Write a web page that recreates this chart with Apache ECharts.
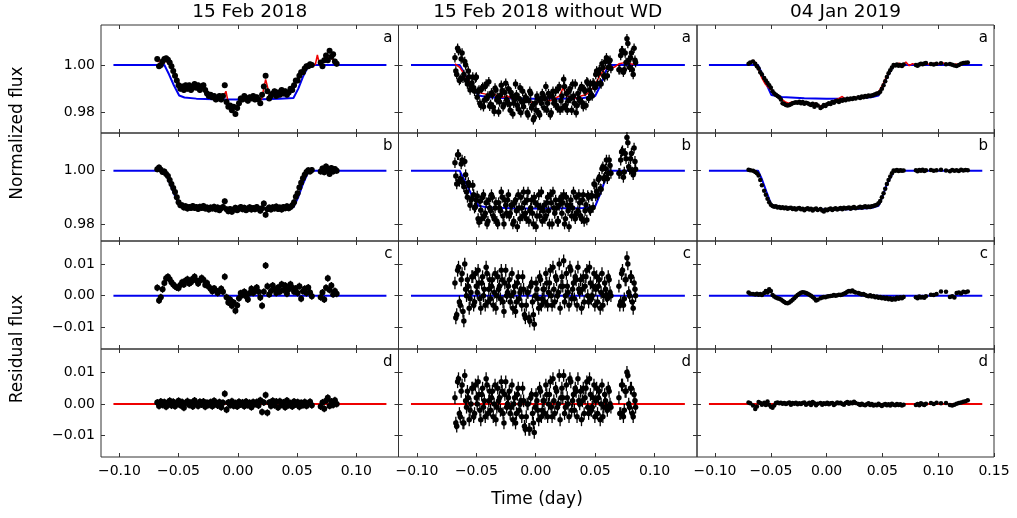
<!DOCTYPE html>
<html>
<head>
<meta charset="utf-8">
<script src="https://cdn.jsdelivr.net/npm/echarts@6/dist/echarts.min.js"></script>
<style>
html,body{margin:0;padding:0;background:#fff;}
#c{width:1017px;height:518px;}
</style>
</head>
<body>
<div id="c"></div>
<script>
// ---------- DATA (flux values in ppt relative to 1, residuals in ppt) ----------
const titles = ['15 Feb 2018', '15 Feb 2018 without WD', '04 Jan 2019'];
const panelLetters = ['a', 'b', 'c', 'd'];
const xTicks12 = [-0.10, -0.05, 0.00, 0.05, 0.10];
const xTicks3 = [-0.10, -0.05, 0.00, 0.05, 0.10, 0.15];
const yTicksFlux = [0.98, 1.00];
const yTicksRes = [-0.01, 0.00, 0.01];

// time stamps shared by the two 15 Feb 2018 columns
const t1 = [
-0.0680,-0.0665,-0.0650,-0.0635,-0.0620,-0.0605,-0.0590,-0.0575,-0.0560,-0.0545,
-0.0530,-0.0515,-0.0500,-0.0485,-0.0470,-0.0455,-0.0440,-0.0425,-0.0410,-0.0395,
-0.0380,-0.0365,-0.0350,-0.0335,-0.0320,-0.0305,-0.0290,-0.0275,-0.0260,-0.0245,
-0.0230,-0.0215,-0.0200,-0.0185,-0.0170,-0.0155,-0.0140,-0.0125,-0.0110,-0.0095,
-0.0080,-0.0065,-0.0050,-0.0035,-0.0020,-0.0005,0.0010,0.0025,0.0040,0.0055,
0.0070,0.0085,0.0100,0.0115,0.0130,0.0145,0.0160,0.0175,0.0190,0.0205,
0.0220,0.0235,0.0250,0.0265,0.0280,0.0295,0.0310,0.0325,0.0340,0.0355,
0.0370,0.0385,0.0400,0.0415,0.0430,0.0445,0.0460,0.0475,0.0490,0.0505,
0.0520,0.0535,0.0550,0.0565,0.0580,0.0595,0.0610,0.0625,0.0700,0.0715,
0.0730,0.0745,0.0760,0.0775,0.0790,0.0805,0.0820,0.0835];
// extra interleaved time stamps of the "without WD" reduction
const t2x = [
-0.06725,-0.06575,-0.06425,-0.06275,-0.06125,-0.05975,-0.05825,-0.05675,-0.05525,-0.05375,
-0.05225,-0.05075,-0.04925,-0.04775,-0.04625,-0.04475,-0.04325,-0.04175,-0.04025,-0.03875,
-0.03725,-0.03575,-0.03425,-0.03275,-0.03125,-0.02975,-0.02825,-0.02675,-0.02525,-0.02375,
-0.02225,-0.02075,-0.01925,-0.01775,-0.01625,-0.01475,-0.01325,-0.01175,-0.01025,-0.00875,
-0.00725,-0.00575,-0.00425,-0.00275,-0.00125,0.00025,0.00175,0.00325,0.00475,0.00625,
0.00775,0.00925,0.01075,0.01225,0.01375,0.01525,0.01675,0.01825,0.01975,0.02125,
0.02275,0.02425,0.02575,0.02725,0.02875,0.03025,0.03175,0.03325,0.03475,0.03625,
0.03775,0.03925,0.04075,0.04225,0.04375,0.04525,0.04675,0.04825,0.04975,0.05125,
0.05275,0.05425,0.05575,0.05725,0.05875,0.06025,0.06175,0.06325,0.07075,0.07225,
0.07375,0.07525,0.07675,0.07825,0.07975,0.08125,0.08275,0.08400];

// column 1: 15 Feb 2018
const a1 = [
2.5,-0.5,0.0,1.5,2.5,2.8,2.2,1.0,-0.5,-2.5,
-4.5,-6.5,-8.5,-10.0,-9.0,-10.5,-8.5,-10.0,-8.5,-10.5,
-9.5,-8.0,-9.5,-8.5,-10.5,-9.0,-8.5,-10.5,-12.0,-13.0,
-12.5,-13.5,-13.0,-14.5,-14.0,-13.0,-14.5,-13.0,-8.5,-15.5,
-17.5,-17.0,-19.0,-17.5,-20.5,-18.0,-16.0,-14.0,-14.5,-13.0,
-14.0,-15.0,-13.5,-14.0,-13.0,-14.5,-13.5,-14.5,-16.0,-12.5,
-9.0,-4.5,-11.0,-14.0,-13.0,-12.0,-11.0,-13.0,-11.5,-12.5,
-10.5,-12.0,-11.0,-12.5,-11.5,-10.0,-10.5,-8.5,-6.5,-6.5,
-4.5,-3.0,-3.0,-1.5,-0.5,-0.5,0.3,0.0,1.0,-0.5,
2.0,4.0,2.0,6.0,3.5,4.5,1.5,0.5];
const b1 = [
0.5,1.2,0.4,-0.5,-0.3,-1.2,-2.0,-3.5,-5.0,-6.5,
-8.0,-10.0,-11.8,-13.0,-13.0,-13.8,-13.3,-14.2,-13.6,-14.0,
-13.2,-14.0,-13.6,-14.4,-13.5,-14.0,-13.2,-14.2,-13.8,-14.6,
-13.8,-14.2,-13.5,-14.5,-13.8,-14.8,-14.1,-13.6,-11.5,-14.5,
-15.2,-14.4,-15.4,-14.6,-13.9,-14.8,-14.2,-13.6,-14.5,-13.9,
-14.8,-14.3,-13.7,-14.6,-14.0,-14.5,-13.6,-14.3,-15.0,-14.1,
-12.3,-16.5,-14.5,-13.8,-14.6,-13.7,-14.2,-13.4,-14.4,-13.8,
-14.6,-13.6,-14.1,-13.3,-14.1,-13.6,-13.0,-11.8,-9.8,-8.5,
-6.3,-4.5,-2.8,-1.5,-0.5,0.2,-0.3,0.3,-0.3,0.8,
-0.6,1.6,0.4,-1.2,1.0,-0.3,0.6,0.0];
const c1 = [
2.5,-1.5,-0.5,2.0,4.0,5.5,6.0,5.2,4.2,3.5,
3.0,2.6,2.4,3.4,4.2,3.5,4.8,5.2,3.8,4.2,
5.3,6.0,4.8,3.8,4.8,5.6,5.0,3.4,4.0,2.8,
2.2,1.4,2.3,1.6,0.8,1.5,2.2,1.2,6.0,-0.5,
-2.2,-1.2,-3.2,-2.2,-4.8,-3.0,-0.8,0.8,0.2,1.2,
-0.2,-1.2,0.8,2.2,0.8,1.8,2.6,1.2,-0.6,-3.2,
1.2,9.5,3.0,0.4,1.5,3.2,2.0,0.8,2.6,1.2,
3.6,1.8,3.2,0.6,2.0,3.6,2.5,1.2,2.3,0.8,
3.0,-1.0,1.4,2.2,0.8,2.6,1.0,-0.2,-0.5,1.0,
-1.2,2.5,5.5,1.8,3.2,0.4,1.5,0.6];
const d1 = [
0.5,-0.6,0.8,-0.3,0.6,-0.9,0.4,1.0,-0.5,0.7,
-0.7,0.2,1.0,-0.4,0.6,-1.2,0.3,0.9,-0.3,0.5,
-0.8,1.1,0.0,-0.6,0.7,-0.2,0.8,-0.9,0.4,-0.3,
0.6,-0.7,1.0,0.1,-0.5,0.6,-1.0,0.4,3.2,-1.8,
0.5,-0.4,0.9,-0.6,0.3,-0.8,0.7,-0.2,0.5,-0.7,
0.8,-0.4,0.4,-1.0,0.6,-0.1,0.6,-0.5,1.2,-2.5,
0.5,2.8,-2.8,0.5,-0.6,1.0,-0.4,0.8,-1.1,0.9,
-0.3,0.5,-1.0,1.1,-0.4,0.3,-0.8,0.8,-0.2,0.6,
-0.9,0.4,-0.4,0.6,-0.6,0.2,0.7,-0.4,-0.8,0.5,
-1.5,1.0,2.0,-0.6,0.8,-0.3,1.2,0.0];
const err1 = 1.1;
const mT1 = [-0.105,-0.062,-0.058,-0.054,-0.0495,-0.045,-0.035,-0.020,0.000,0.020,0.035,0.047,0.051,0.055,0.060,0.1255];
const mA1 = [0,0,-4,-8.5,-12.8,-13.6,-14.1,-14.4,-14.5,-14.4,-14.2,-13.8,-10,-5,0,0];
const mB1 = [0,0,-4,-8.5,-12.9,-13.5,-14.0,-14.3,-14.4,-14.3,-14.1,-13.7,-10,-5,0,0];
const tR1 = [-0.068,-0.064,-0.060,-0.056,-0.052,-0.048,-0.044,-0.040,-0.036,-0.032,
-0.028,-0.024,-0.020,-0.016,-0.012,-0.010,-0.008,-0.004,0.000,0.004,
0.008,0.012,0.016,0.020,0.0235,0.027,0.031,0.035,0.039,0.043,
0.047,0.051,0.055,0.059,0.0625,0.0655,0.0672,0.069,0.071,0.074,
0.078,0.0835];
const rA1 = [1.5,1.5,1.5,-1,-5,-9,-9.5,-9.5,-9.5,-10,
-10.5,-12,-13.5,-13.5,-13,-11,-16,-18,-17,-14,
-14.5,-13.5,-14,-14.5,-6,-13,-12,-12,-11.5,-11,
-9,-6,-3,-0.5,0.2,0.2,4.2,0.2,1.0,2.0,
3.5,0.5];

// column 2: 15 Feb 2018 without WD (values at t1, then at t2x)
const a2 = [
3,-4,6,-6,5,-4,0,-8,-5,-9,
-5,-11,-5,-11,-16,-10,-17.5,-9,-14,-7,
-16.5,-12.5,-19.5,-10.5,-13.5,-15.5,-8.5,-17.5,-11.5,-14.5,
-10,-19,-13,-16,-8,-17,-14,-20,-11,-15,
-14,-21,-11,-18,-23,-16,-13,-20,-15,-12,
-18,-9,-16,-13,-20,-11,-15,-17,-10,-19,
-13,-6,-17,-19,-11,-14,-8,-16,-20,-12,
-15,-9,-17.5,-11,-7,-14,-8,-13,-8,-4,
-8,-2,-8,-1,-5,3,-1,2,-2,4,
6,-2,1,9,-1,5,-4,2];
const a2x = [
-2.5,7,-6.5,2.5,-5.5,1.5,-6.5,-2.5,-10.5,-7.5,
-9.5,-5.5,-13.5,-10.5,-17,-9.3,-14.8,-8,-13,-17.3,
-11.7,-17.7,-9.7,-14.7,-19.7,-12.7,-10.7,-16.7,-7.7,-15.7,
-16.5,-11.5,-20.5,-14.5,-12.5,-18.5,-9.5,-15.5,-17.5,-13.5,
-20,-15,-12,-17,-22,-19,-14,-21,-16,-13,
-14,-19,-12,-21,-13,-16,-11,-18,-9,-15,
-18,-9,-12,-15,-10,-19,-13,-8,-17,-14,
-10,-15.8,-10.3,-17,-7.5,-10.5,-12.5,-7.5,-9.5,-2.5,
-3.5,-7.5,0.5,-4.5,1.5,-4.5,1.5,-1.5,-2,6,
-3,5,11,2,3,-2,7,1];
const b2 = [
3,-5,6,-3,4,-6,-1.5,-10,-5.5,-11,
-5.5,-14,-11,-18,-11.5,-18,-9,-16,-20,-11,
-15,-10,-18,-12,-20,-14,-8,-17,-11,-16,
-9,-16,-13,-19,-11,-21,-14,-10,-17,-12,
-18,-8,-15,-11,-20,-12,-17,-9,-14,-19,
-13,-17,-10,-20,-12,-8,-16,-14,-19,-11,
-16,-9,-18,-13,-21,-11,-14,-17,-10,-15,
-12,-18,-9,-15,-18.5,-10,-15,-9.5,-5,-9.5,
-9,-2.5,-7,1.5,-2.5,4,-1,2,-1,4,
7.5,-0.5,4.5,10.5,0.5,6.5,-1.5,3.5];
const b2x = [
-2,6,-4,2.5,-4.5,3.5,-8,-4.5,-13,-10.5,
-9,-13.5,-9.5,-19.3,-14.8,-10,-17,-12,-19,-14,
-9,-17,-14,-19,-12,-15,-10,-20,-13,-11,
-17,-13,-20,-12,-15,-9,-18,-14,-8,-16,
-11,-19,-14,-16,-10,-21,-13,-17,-8,-15,
-18,-12,-15,-9,-20,-14,-11,-19,-13,-10,
-12,-20,-10,-15,-13,-17,-8,-18,-16,-9,
-17,-11,-19,-12.8,-9.3,-14.5,-9.3,-13.8,-5.3,-7.8,
-3.3,-6.8,0.7,-3,0.7,-3,4,-1,-1,7,
-2.5,6.5,12.5,1.5,4.5,-0.5,8.5,0.5];
const c2 = [
4,-6,9,-3,7,-8,2,5,-4,1,
6,-2,3,8,-1,4,0,-3,7,2,
-1,5,1,-4,6,3,8,-2,4,0,
3,-2,7,1,-5,4,-1,2,6,-6,
-3,1,-8,4,-6,0,2,-4,5,-1,
2,7,-3,4,0,9,-2,5,1,-4,
6,11,0,3,-3,8,2,-1,5,9,
1,-4,6,3,8,-2,4,0,7,2,
-2,5,1,-3,4,0,6,1,3,-2,
8,-1,5,10,0,6,-4,2];
const c2x = [
-7,8,-2,5,-5,10,0,3,-1,6,
-3,7,1,4,-4,6,2,9,-2,5,
3,-3,7,0,2,-1,5,-5,8,1,
5,0,-4,3,-2,6,1,-3,2,-7,
1,-7,3,-2,-9,4,-1,6,-3,2,
-2,4,1,8,-3,2,6,0,10,3,
3,-2,7,1,9,-1,4,6,-3,2,
5,2,-2,6,0,9,-1,3,-3,6,
3,-4,7,0,2,-1,5,0,-3,7,
-3,5,12,1,6,-2,4,0];
const d2 = [
2,-7,8,-4,6,-6,1,4,-5,0,
5,-3,2,7,-2,3,-1,-4,6,1,
-2,4,0,-5,5,2,7,-3,3,-1,
2,-3,6,0,-6,3,-2,1,5,-7,
-4,0,-8,3,-6,-1,1,-5,4,-2,
1,6,-4,3,-1,8,-3,4,0,-5,
5,9,-1,2,-4,7,1,-2,4,8,
0,-5,5,2,7,-3,3,-1,6,1,
-3,4,0,-4,3,-1,5,0,2,-3,
6,-2,4,9,-1,5,-4,1];
const d2x = [
-6,7,-3,4,-6,9,-1,2,-2,5,
-4,6,0,3,-5,5,1,8,-3,4,
2,-4,6,-1,1,-2,4,-6,7,0,
4,-1,-5,2,-3,5,0,-4,1,-8,
0,-8,2,-3,-9,3,-2,5,-4,1,
-3,3,0,7,-4,1,5,-1,9,2,
2,-3,6,0,8,-2,3,5,-4,1,
4,1,-3,5,-1,8,-2,2,-4,5,
2,-5,6,-1,1,-2,4,-1,-3,6,
-4,4,10,0,5,-3,3,-1];
const err2 = 2.0;
const mT2 = [-0.105,-0.064,-0.059,-0.054,-0.048,-0.040,-0.020,0.000,0.020,0.040,0.050,0.054,0.058,0.061,0.1255];
const mA2 = [0,0,-4.5,-9,-12.8,-13.5,-14.0,-14.2,-14.1,-13.8,-13.0,-9,-4,0,0];
const mB2 = [0,0,-4.5,-9,-13.2,-13.8,-14.1,-14.2,-14.1,-14.0,-13.4,-9,-4,0,0];
const tR2 = [-0.068,-0.064,-0.060,-0.056,-0.052,-0.048,-0.044,-0.040,-0.036,-0.032,
-0.028,-0.024,-0.020,-0.016,-0.012,-0.008,-0.004,0.000,0.004,0.008,
0.012,0.016,0.020,0.023,0.026,0.030,0.034,0.038,0.042,0.046,
0.050,0.054,0.058,0.0625,0.066,0.070,0.075,0.080,0.0835];
const rA2 = [0.5,-1,-4,-7,-10,-11.5,-12,-12.5,-12,-13,
-13.5,-13,-14,-13.5,-15,-14.5,-15.5,-16,-15,-14.5,
-15,-14,-13,-9.5,-13,-13.5,-14,-13,-12.5,-11,
-8,-4.5,-1.5,-0.5,-1,0.5,1,0.5,0.2];

// column 3: 04 Jan 2019
const t3 = [
-0.0700,-0.0685,-0.0660,-0.0640,-0.0625,-0.0610,-0.0595,-0.0580,-0.0560,-0.0545,
-0.0530,-0.0515,-0.0500,-0.0485,-0.0470,-0.0455,-0.0440,-0.0425,-0.0410,-0.0395,
-0.0380,-0.0365,-0.0350,-0.0335,-0.0320,-0.0305,-0.0290,-0.0275,-0.0260,-0.0245,
-0.0230,-0.0215,-0.0200,-0.0185,-0.0170,-0.0155,-0.0140,-0.0125,-0.0110,-0.0095,
-0.0080,-0.0055,-0.0040,-0.0025,-0.0010,0.0005,0.0020,0.0035,0.0050,0.0065,
0.0080,0.0095,0.0110,0.0125,0.0140,0.0155,0.0170,0.0185,0.0200,0.0215,
0.0230,0.0245,0.0260,0.0285,0.0300,0.0315,0.0330,0.0345,0.0360,0.0375,
0.0390,0.0405,0.0420,0.0435,0.0450,0.0465,0.0480,0.0495,0.0510,0.0525,
0.0540,0.0555,0.0570,0.0585,0.0600,0.0615,0.0630,0.0645,0.0660,0.0675,
0.0690,0.0800,0.0815,0.0830,0.0845,0.0860,0.0875,0.0890,0.0935,0.0960,
0.0985,0.1025,0.1070,0.1105,0.1125,0.1145,0.1165,0.1185,0.1205,0.1225,
0.1245,0.1265];
const a3 = [
0.5,1.0,1.5,0.5,-0.5,-1.5,-3.0,-4.0,-5.5,-6.5,
-7.5,-8.5,-9.5,-11.0,-12.0,-12.5,-13.0,-13.5,-14.5,-16.0,
-16.3,-16.8,-17.0,-16.8,-16.5,-16.0,-15.8,-15.6,-15.8,-15.4,
-16.0,-15.5,-16.2,-15.8,-16.0,-16.5,-16.8,-16.2,-17.5,-16.5,
-17.0,-18.0,-17.5,-16.8,-17.2,-16.5,-16.0,-16.3,-15.5,-15.8,
-15.2,-15.0,-15.5,-14.8,-15.0,-14.5,-14.8,-14.2,-14.5,-14.0,
-14.3,-13.8,-14.0,-13.5,-13.8,-13.2,-13.5,-13.0,-13.3,-12.8,
-13.0,-12.8,-12.6,-12.3,-12.0,-11.8,-11.2,-10.0,-8.5,-6.8,
-5.0,-3.5,-2.2,-1.0,0.0,-0.2,0.2,-0.3,0.0,-0.4,
0.2,0.0,-0.3,0.2,0.5,0.3,0.6,0.8,0.4,0.2,
0.5,0.7,0.3,0.4,0.1,-0.2,-0.4,0.0,0.5,0.8,
0.9,1.0];
const b3 = [
0.4,0.2,0.0,-0.5,-1.0,-1.8,-3.5,-5.5,-7.5,-9.0,
-10.5,-11.8,-12.8,-13.2,-13.5,-13.3,-13.8,-13.6,-14.0,-13.7,
-14.1,-13.8,-14.3,-14.0,-13.9,-14.4,-14.1,-14.6,-14.2,-14.0,
-14.5,-14.3,-14.8,-14.4,-14.1,-14.6,-14.3,-14.9,-14.5,-14.2,
-14.7,-14.4,-14.9,-15.3,-14.6,-14.8,-14.5,-14.2,-14.7,-14.4,
-14.1,-14.6,-14.3,-14.0,-14.5,-13.9,-14.2,-14.0,-13.8,-14.3,
-13.9,-13.6,-14.1,-13.8,-13.5,-13.9,-13.6,-13.3,-13.7,-13.4,
-13.6,-13.3,-13.2,-13.0,-12.8,-12.2,-11.4,-10.0,-8.5,-6.8,
-5.0,-3.5,-2.2,-1.0,0.1,0.0,0.3,-0.1,0.2,0.0,
0.1,0.2,-0.2,0.3,0.0,0.4,-0.1,0.2,0.3,0.0,
0.2,0.4,0.1,-0.2,0.3,0.0,0.2,-0.1,0.4,0.1,
0.3,0.2];
const c3 = [
1.0,0.6,0.5,0.4,0.6,0.3,0.5,0.2,0.8,1.5,
1.0,2.0,1.5,0.2,-0.3,-0.6,-0.8,-1.0,-1.2,-1.6,
-2.0,-2.3,-2.4,-2.2,-1.8,-1.3,-0.8,-0.3,0.2,0.6,
0.9,1.1,1.0,0.8,0.6,0.3,0.0,-0.4,-0.9,-1.5,
-1.3,-0.8,-0.6,-0.4,-0.5,-0.3,-0.2,-0.1,0.0,0.2,
0.0,0.1,0.3,0.2,0.4,0.6,0.8,1.2,1.5,1.3,
1.6,1.2,1.0,0.8,0.6,0.4,0.5,0.2,0.0,-0.2,
0.1,-0.3,-0.1,-0.5,-0.3,-0.7,-0.4,-0.8,-0.6,-1.0,
-0.7,-1.1,-0.8,-1.3,-0.9,-1.2,-0.6,-1.0,-0.5,-0.8,
-0.4,-0.5,-0.8,-0.3,-0.6,-0.4,-0.7,-0.2,0.3,0.2,
0.5,1.3,1.2,-0.4,-0.2,-0.6,0.8,1.0,0.7,1.2,
1.1,1.3];
const d3 = [
0.5,0.2,-0.5,-1.6,-0.8,0.6,0.3,-0.2,0.4,-0.3,
0.8,-0.2,-0.9,-1.2,-0.5,0.3,0.5,0.2,0.4,0.1,
0.3,0.0,0.2,0.5,-0.2,0.3,0.1,0.4,-0.1,0.2,
0.0,0.3,0.5,-0.2,0.1,0.4,-0.3,0.6,0.2,-0.4,
0.1,0.3,-0.2,0.2,0.0,0.4,-0.1,0.2,0.3,-0.3,
0.1,0.5,0.2,0.4,0.0,-0.2,0.3,0.6,0.1,0.5,
0.2,0.7,0.3,0.0,-0.3,0.1,-0.2,-0.4,-0.1,0.2,
-0.3,0.0,-0.5,-0.2,-0.4,0.1,-0.3,-0.6,-0.2,0.0,
-0.4,-0.1,-0.5,0.1,-0.2,-0.4,0.0,-0.3,-0.1,-0.5,
-0.2,-0.3,0.0,-0.4,0.2,-0.1,-0.3,0.1,0.3,0.0,
0.4,0.2,0.3,-0.3,-0.5,-0.2,0.1,0.3,0.5,0.7,
0.9,1.2];
const err3 = 0.3;
const mT3 = [-0.1055,-0.0615,-0.058,-0.054,-0.0495,-0.040,-0.020,0.000,0.020,0.040,0.0465,0.050,0.054,0.0605,0.1395];
const mA3 = [0,0,-3.5,-8,-12.6,-13.4,-13.9,-14.1,-14.0,-13.5,-12.8,-9.5,-5,0,0];
const mB3 = [0,0,-3.2,-7.8,-12.9,-13.8,-14.4,-14.6,-14.5,-14.0,-13.2,-9.8,-5,0,0];
const tR3 = [-0.070,-0.066,-0.064,-0.062,-0.060,-0.058,-0.055,-0.052,-0.049,-0.046,
-0.043,-0.040,-0.037,-0.034,-0.031,-0.028,-0.025,-0.022,-0.019,-0.016,
-0.013,-0.010,-0.007,-0.004,-0.001,0.002,0.005,0.008,0.011,0.014,
0.017,0.020,0.023,0.026,0.029,0.032,0.035,0.038,0.041,0.044,
0.047,0.050,0.053,0.056,0.059,0.062,0.065,0.068,0.071,0.074,
0.077,0.080,0.083,0.086,0.089,0.092,0.095,0.098,0.101,0.104,
0.107,0.110,0.113,0.116,0.119,0.122,0.125,0.127];
const rA3 = [0.0,2.0,1.0,-1.0,-3.0,-5.5,-8.0,-9.5,-10.5,-12.5,
-13.0,-14.5,-15.5,-16.0,-15.5,-15.8,-15.2,-15.8,-15.5,-16.2,
-16.5,-16.0,-16.8,-17.5,-16.5,-16.0,-15.5,-14.5,-14.0,-13.2,
-14.5,-14.0,-14.2,-13.5,-13.8,-13.0,-13.3,-12.8,-12.6,-12.2,
-11.0,-8.5,-5.5,-2.8,-0.5,0.0,0.8,-0.2,1.2,-0.3,
0.6,0.0,0.4,-0.1,0.7,0.2,0.5,0.9,0.3,1.0,
0.2,0.6,-0.2,0.4,-0.3,0.5,0.8,1.0];

// axis ranges
const xRange12 = [-0.1155, 0.1357];
const xRange3 = [-0.1162, 0.1500];
const zeroSpan12 = [-0.105, 0.1255];
const zeroSpan3 = [-0.1055, 0.1395];
const yRanges = [[0.97149, 1.01677], [0.97362, 1.01415], [-0.01685, 0.01726], [-0.01672, 0.01735]];

// ---------- LAYOUT / BUILD ----------
const colLeft = [101, 398.5, 697];
const colW = [297.5, 298.5, 297];
const rowTop = [25, 133, 241, 349];
const rowH = 108;
const FONT = 'DejaVu Sans';
const BLUE = '#0000ee', RED = '#ee0000', AX = '#333';

const cols = [
  {t:t1, a:a1, b:b1, c:c1, d:d1, err:err1, mT:mT1, mA:mA1, mB:mB1, rT:tR1, rA:rA1, span:zeroSpan12, xr:xRange12, ticks:xTicks12, size:6, redZ:2, redW:1.5},
  {t:t1.concat(t2x), a:a2.concat(a2x), b:b2.concat(b2x), c:c2.concat(c2x), d:d2.concat(d2x), err:err2, mT:mT2, mA:mA2, mB:mB2, rT:tR2, rA:rA2, span:zeroSpan12, xr:xRange12, ticks:xTicks12, size:5.5, redZ:2, redW:1.5},
  {t:t3, a:a3, b:b3, c:c3, d:d3, err:err3, mT:mT3, mA:mA3, mB:mB3, rT:tR3, rA:rA3, span:zeroSpan3, xr:xRange3, ticks:xTicks3, size:4.5, redZ:2, redW:1.5}
];

const fmt = v => (v < -1e-9 ? '\u2212' : '') + Math.abs(v).toFixed(2);
const grids = [], xAxes = [], yAxes = [], series = [], graphics = [];

function errSeries(xi, yi, pts, z) {
  return {
    type:'custom', xAxisIndex:xi, yAxisIndex:yi, z:z, silent:true, animation:false,
    data: pts, encode:{x:0, y:[1,2]},
    renderItem: (params, api) => {
      const p1 = api.coord([api.value(0), api.value(1)]);
      const p2 = api.coord([api.value(0), api.value(2)]);
      return {type:'line', shape:{x1:p1[0], y1:p1[1], x2:p2[0], y2:p2[1]}, style:{stroke:'#000', lineWidth:1.3}};
    }
  };
}
function lineSeries(xi, yi, data, color, width, z) {
  return {type:'line', xAxisIndex:xi, yAxisIndex:yi, data:data, showSymbol:false, symbol:'none',
    lineStyle:{color:color, width:width}, z:z, silent:true, animation:false};
}

for (let r = 0; r < 4; r++) {
  for (let c = 0; c < 3; c++) {
    const col = cols[c];
    const gi = r*3 + c;
    grids.push({left:colLeft[c], top:rowTop[r], width:colW[c], height:rowH, show:true,
      borderColor:AX, borderWidth:1, backgroundColor:'transparent', containLabel:false});
    const yt = r < 2 ? yTicksFlux : yTicksRes;
    const baseX = {gridIndex:gi, type:'value', min:col.xr[0], max:col.xr[1],
      axisLine:{show:false, onZero:false}, splitLine:{show:false},
      axisTick:{show:true, inside:true, length:4, lineStyle:{color:AX, width:1}, customValues:col.ticks}};
    xAxes.push(Object.assign({}, baseX, {position:'bottom',
      axisLabel:{show:r===3, customValues:col.ticks, formatter:fmt, fontSize:14, fontFamily:FONT, color:'#000', margin:7}}));
    xAxes.push(Object.assign({}, baseX, {position:'top', axisLabel:{show:false}}));
    const baseY = {gridIndex:gi, type:'value', min:yRanges[r][0], max:yRanges[r][1],
      axisLine:{show:false, onZero:false}, splitLine:{show:false},
      axisTick:{show:true, inside:true, length:4, lineStyle:{color:AX, width:1}, customValues:yt}};
    yAxes.push(Object.assign({}, baseY, {position:'left',
      axisLabel:{show:c===0, customValues:yt, formatter:fmt, fontSize:14, fontFamily:FONT, color:'#000', margin:6}}));
    yAxes.push(Object.assign({}, baseY, {position:'right', axisLabel:{show:false}}));

    const xi = gi*2, yi = gi*2;
    const vals = [col.a, col.b, col.c, col.d][r];
    const conv = r < 2 ? (v => 1 + v/1000) : (v => v/1000);
    if (r === 0) series.push(lineSeries(xi, yi, col.mT.map((t,i)=>[t, conv(col.mA[i])]), BLUE, 2, 1));
    if (r === 1) series.push(lineSeries(xi, yi, col.mT.map((t,i)=>[t, conv(col.mB[i])]), BLUE, 2, 1));
    if (r === 2) series.push(lineSeries(xi, yi, col.span.map(t=>[t, 0]), BLUE, 2, 1));
    if (r === 3) series.push(lineSeries(xi, yi, col.span.map(t=>[t, 0]), RED, 2, 1));
    if (r === 0) series.push(lineSeries(xi, yi, col.rT.map((t,i)=>[t, conv(col.rA[i])]), RED, col.redW, col.redZ));
    const n = Math.min(col.t.length, vals.length);
    const ebar = [], pts = [];
    for (let i = 0; i < n; i++) {
      ebar.push([col.t[i], conv(vals[i]-col.err), conv(vals[i]+col.err)]);
      pts.push([col.t[i], conv(vals[i])]);
    }
    series.push(errSeries(xi, yi, ebar, 3));
    series.push({type:'scatter', xAxisIndex:xi, yAxisIndex:yi, data:pts, symbol:'circle', symbolSize:col.size,
      itemStyle:{color:'#000', opacity:1}, z:4, silent:true, animation:false});
    graphics.push({type:'text', x:colLeft[c]+colW[c]-6, y:rowTop[r]+13,
      style:{text:panelLetters[r], font:'15px '+FONT, fill:'#000', textAlign:'right', textVerticalAlign:'middle'}});
  }
}
for (let c = 0; c < 3; c++) {
  graphics.push({type:'text', x:colLeft[c]+colW[c]/2, y:12,
    style:{text:titles[c], font:'18.5px '+FONT, fill:'#000', textAlign:'center', textVerticalAlign:'middle'}});
}
graphics.push({type:'text', x:18, y:133, rotation:Math.PI/2,
  style:{text:'Normalized flux', font:'17px '+FONT, fill:'#000', textAlign:'center', textVerticalAlign:'middle'}});
graphics.push({type:'text', x:18, y:349, rotation:Math.PI/2,
  style:{text:'Residual flux', font:'17px '+FONT, fill:'#000', textAlign:'center', textVerticalAlign:'middle'}});
graphics.push({type:'text', x:537, y:500,
  style:{text:'Time (day)', font:'17px '+FONT, fill:'#000', textAlign:'center', textVerticalAlign:'middle'}});

const chart = echarts.init(document.getElementById('c'));
chart.setOption({
  animation:false,
  backgroundColor:'#fff',
  grid:grids, xAxis:xAxes, yAxis:yAxes, series:series, graphic:graphics
});
</script>
</body>
</html>
